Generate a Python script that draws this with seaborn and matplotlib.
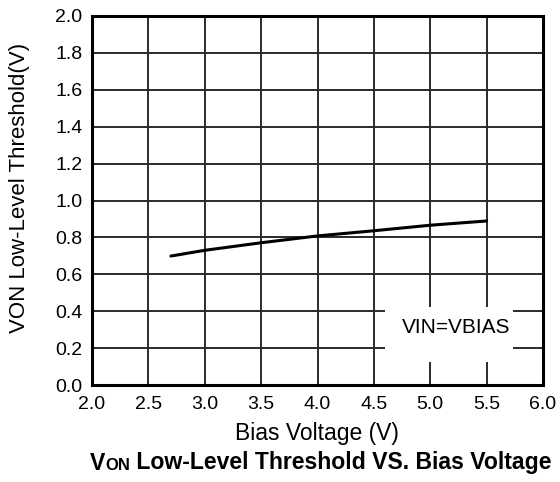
import matplotlib
matplotlib.use("Agg")
import matplotlib.pyplot as plt
import seaborn as sns
import pandas as pd
from matplotlib.patches import Rectangle
from matplotlib.offsetbox import TextArea, HPacker, AnchoredOffsetbox

bias_v = [2.7, 3.0, 3.5, 4.0, 4.5, 5.0, 5.5]
threshold_v = [0.699, 0.730, 0.771, 0.808, 0.836, 0.866, 0.889]
x_ticks = [2.0, 2.5, 3.0, 3.5, 4.0, 4.5, 5.0, 5.5, 6.0]
y_ticks = [0.0, 0.2, 0.4, 0.6, 0.8, 1.0, 1.2, 1.4, 1.6, 1.8, 2.0]

sns.set_theme(style="white")
plt.rcParams['font.family'] = ['Liberation Sans', 'DejaVu Sans']

df = pd.DataFrame({"bias": bias_v, "thr": threshold_v})

W, H = 560, 482
fig = plt.figure(figsize=(5.6, 4.82), dpi=100)
L, R, T, B = 92, 543, 16, 385
ax = fig.add_axes([L / W, 1 - B / H, (R - L) / W, (B - T) / H])
sns.lineplot(data=df, x="bias", y="thr", ax=ax, color="black", linewidth=2.2, zorder=5)

ax.set_xlim(2.0, 6.0)
ax.set_ylim(0.0, 2.0)
ax.set_xticks(x_ticks)
ax.set_yticks(y_ticks)
ax.set_xticklabels([f"{v:.1f}" for v in x_ticks], fontsize=14)
ax.set_yticklabels([f"{v:.1f}" for v in y_ticks], fontsize=14)
ax.grid(True, color="#2a2a2a", linewidth=1.4)
ax.set_axisbelow(True)
for s in ax.spines.values():
    s.set_color("black")
    s.set_linewidth(2.2)
    s.set_zorder(6)
ax.tick_params(axis="x", length=0, pad=8, colors="black")
ax.tick_params(axis="y", length=0, pad=7, colors="black")

ax.set_xlabel("Bias Voltage (V)", fontsize=16.5, color="black")
ax.xaxis.set_label_coords((317 - L) / (R - L), (B - 433) / (B - T))
ax.xaxis.label.set_verticalalignment("center")
ax.set_ylabel("VON Low-Level Threshold(V)", fontsize=16, color="black")
ax.yaxis.set_label_coords((20 - L) / (R - L), (B - 188) / (B - T))
ax.yaxis.label.set_verticalalignment("center")

# white legend-like box over the grid
ax.add_patch(Rectangle((4.599, 0.125), 5.734 - 4.599, 0.423 - 0.125,
                       facecolor="white", edgecolor="none", zorder=3))
ax.text(5.23, 0.309, "VIN=VBIAS", fontsize=15, ha="center", va="center", color="black", zorder=4)

tp = dict(fontsize=16.6, fontweight="bold", color="black")
parts = [TextArea("V", textprops=tp),
         TextArea("ON", textprops=dict(fontsize=12, fontweight="bold", color="black")),
         TextArea(" Low-Level Threshold VS. Bias Voltage", textprops=tp)]
box = HPacker(children=parts, align="baseline", pad=0, sep=0)
anch = AnchoredOffsetbox(loc="center", child=box, pad=0, frameon=False,
                         bbox_to_anchor=(321 / W, 1 - 463 / H), bbox_transform=fig.transFigure, borderpad=0)
fig.add_artist(anch)

fig.savefig("out.png", dpi=100)
